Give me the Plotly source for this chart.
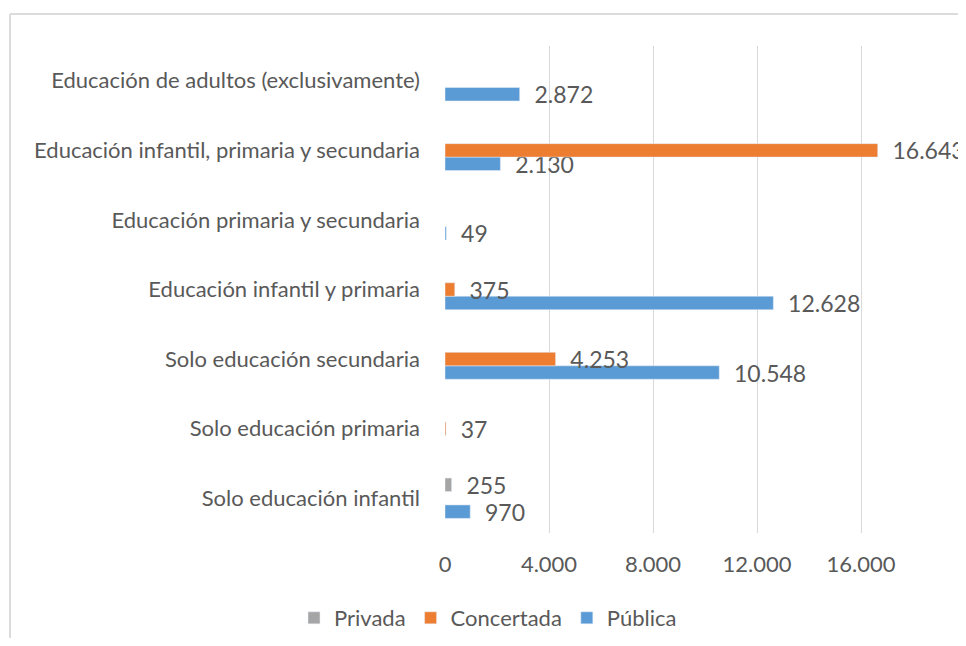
import plotly.graph_objects as go

# ── Data (bottom → top, as the category axis draws them) ────────────────────
CATEGORIES = [
    "Solo educación infantil",
    "Solo educación primaria",
    "Solo educación secundaria",
    "Educación infantil y primaria",
    "Educación primaria y secundaria",
    "Educación infantil, primaria y secundaria",
    "Educación de adultos (exclusivamente)",
]
PUBLICA = [970, None, 10548, 12628, 49, 2130, 2872]
CONCERTADA = [None, 37, 4253, 375, None, 16643, None]
PRIVADA = [255, None, None, None, None, None, None]

X_TICKS = [0, 4000, 8000, 12000, 16000]
X_MAX = 20000

# ── Style ───────────────────────────────────────────────────────────────────
FONT = "Lato, 'Open Sans', sans-serif"
TXT = "#595959"
GRID = "#d9d9d9"
BLUE, ORANGE, GREY = "#5b9bd5", "#ed7d31", "#a5a5a5"

# page body has an 8px margin; keep the page from scrolling vertically
W, H = 958, 630
M_L, M_R, M_T, M_B = 437, 1, 38, 105


def fmt(v):
    # Spanish thousands separator
    return "" if v is None else "\u00a0\u00a0" + f"{v:,}".replace(",", ".")


fig = go.Figure()

# Pública first so it sits at the bottom of each group
for name, vals, color in [("Pública", PUBLICA, BLUE),
                          ("Concertada", CONCERTADA, ORANGE),
                          ("Privada", PRIVADA, GREY)]:
    fig.add_trace(go.Bar(
        name=name,
        y=CATEGORIES,
        x=vals,
        orientation="h",
        marker_color=color,
        text=[fmt(v) for v in vals],
        textposition="outside",
        textfont=dict(family=FONT, size=23, color=TXT),
        constraintext="none",
        cliponaxis=False,
    ))

fig.update_xaxes(
    range=[0, X_MAX],
    tickvals=X_TICKS,
    tickformat=",d",
    showgrid=True,
    gridcolor=GRID,
    gridwidth=1,
    zeroline=False,
    showline=False,
    ticklabelstandoff=16,
    tickfont=dict(family=FONT, size=22, color=TXT),
)
fig.update_yaxes(
    categoryorder="array",
    categoryarray=CATEGORIES,
    showgrid=False,
    zeroline=False,
    showline=False,
    ticklabelstandoff=24,
    tickfont=dict(family=FONT, size=22, color=TXT),
)

# light chart-area frame (top and left edges)
pw, ph = W - M_L - M_R, H - M_T - M_B
fx = (2 - M_L) / pw
fy = 1 + (M_T - 6) / ph
fig.add_shape(type="line", xref="paper", yref="paper", x0=fx, x1=1.2, y0=fy, y1=fy,
              line=dict(color="#dcdcdc", width=2))
fig.add_shape(type="line", xref="paper", yref="paper", x0=fx, x1=fx, y0=fy, y1=-0.3,
              line=dict(color="#dcdcdc", width=2))

fig.update_layout(
    width=W,
    height=H,
    margin=dict(l=M_L, r=M_R, t=M_T, b=M_B),
    barmode="group",
    bargap=0.42,
    bargroupgap=0,
    separators=",.",
    plot_bgcolor="white",
    paper_bgcolor="white",
    font=dict(family=FONT, color=TXT),
    showlegend=True,
    legend=dict(
        orientation="h",
        traceorder="reversed",
        xref="container", yref="container",
        x=480 / W, y=1 - 610 / H,
        xanchor="center", yanchor="middle",
        font=dict(family=FONT, size=22, color=TXT),
        itemwidth=30,
    ),
)

fig.write_html("out.html")
